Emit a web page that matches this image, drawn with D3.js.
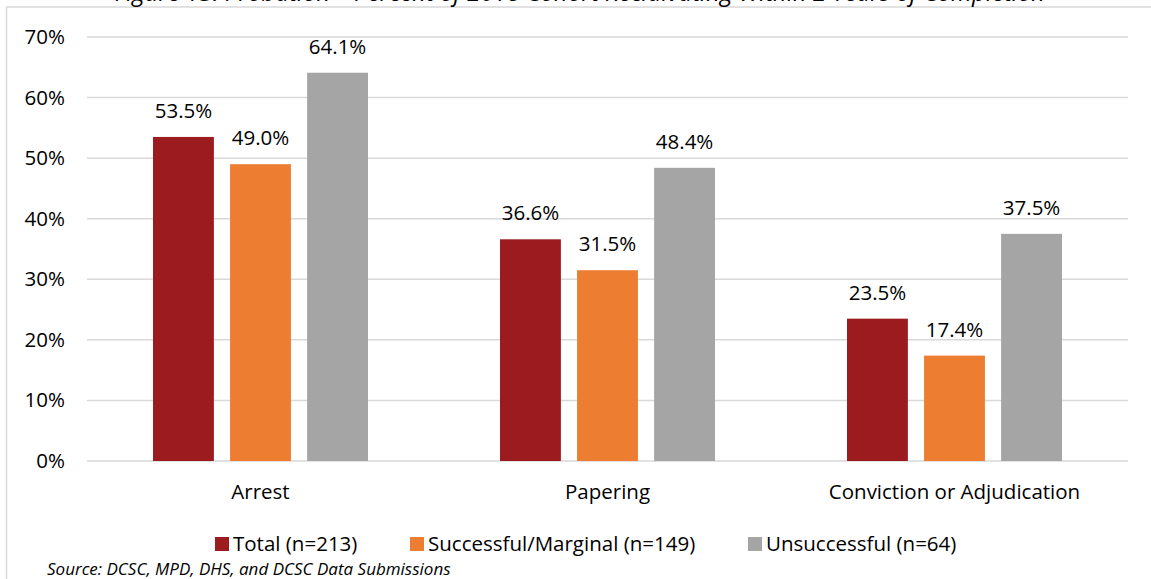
<!DOCTYPE html>
<html>
<head>
<meta charset="utf-8">
<script src="https://cdn.jsdelivr.net/npm/d3@7"></script>
<style>
  body { margin: 0; background: #fff; }
  svg { display: block; font-family: "Open Sans", sans-serif; }
</style>
</head>
<body>
<svg id="plot" width="1151" height="579"></svg>
<script>
// data
const categories = ["Arrest", "Papering", "Conviction or Adjudication"];
const seriesNames = ["Total (n=213)", "Successful/Marginal (n=149)", "Unsuccessful (n=64)"];
const totalVals = [53.5, 36.6, 23.5];
const successVals = [49.0, 31.5, 17.4];
const unsuccessVals = [64.1, 48.4, 37.5];
const yTicks = [0, 10, 20, 30, 40, 50, 60, 70];
const colors = ["#9B1B1F", "#ED7D31", "#A5A5A5"];

const series = [totalVals, successVals, unsuccessVals];
const FONT = "'Open Sans', sans-serif";
const FS = 20.5;

const svg = d3.select("#plot");
const margin = { top: 37, left: 87, right: 23, bottom: 118 };
const width = +svg.attr("width");
const height = +svg.attr("height");
const innerW = width - margin.left - margin.right;
const innerH = height - margin.top - margin.bottom;

// chart border
svg.append("rect")
  .attr("x", 6.5).attr("y", 7)
  .attr("width", width + 20).attr("height", height + 20)
  .attr("fill", "none").attr("stroke", "#d9d9d9").attr("stroke-width", 1.5);

// title (cut off at top, as in the source)
svg.append("text")
  .attr("x", 580).attr("y", 1)
  .attr("text-anchor", "middle")
  .attr("font-style", "italic")
  .attr("font-size", 24)
  .attr("fill", "#000")
  .text("Figure 13: Probation – Percent of 2018 Cohort Recidivating Within 2 Years of Completion");

const g = svg.append("g").attr("transform", `translate(${margin.left},${margin.top})`);

const x0 = d3.scaleBand().domain(categories).range([0, innerW]);
const x1 = d3.scaleBand().domain(d3.range(3))
  .range([x0.bandwidth() / 2 - 107.5, x0.bandwidth() / 2 + 107.5]).paddingInner(0.21);
const y = d3.scaleLinear().domain([0, 70]).range([innerH, 0]);

// gridlines
g.selectAll(".grid")
  .data(yTicks)
  .enter().append("line")
  .attr("x1", 0).attr("x2", innerW)
  .attr("y1", d => y(d)).attr("y2", d => y(d))
  .attr("stroke", "#d9d9d9").attr("stroke-width", 1.5);

// y axis labels
const yAxis = g.append("g")
  .call(d3.axisLeft(y).tickValues(yTicks).tickFormat(d => d + "%").tickSize(0).tickPadding(22));
yAxis.select(".domain").remove();
yAxis.selectAll("text").attr("font-size", FS).attr("fill", "#000").attr("font-family", FONT);

// x axis labels
const xAxis = g.append("g")
  .attr("transform", `translate(0,${innerH})`)
  .call(d3.axisBottom(x0).tickSize(0).tickPadding(23));
xAxis.select(".domain").remove();
xAxis.selectAll("text").attr("font-size", FS).attr("fill", "#000").attr("font-family", FONT);

// bars
const groups = g.selectAll(".cat")
  .data(categories)
  .enter().append("g")
  .attr("transform", d => `translate(${x0(d)},0)`);

groups.each(function(cat, ci) {
  const grp = d3.select(this);
  series.forEach((vals, si) => {
    grp.append("rect")
      .attr("x", x1(si))
      .attr("y", y(vals[ci]))
      .attr("width", x1.bandwidth())
      .attr("height", innerH - y(vals[ci]))
      .attr("fill", colors[si]);
    grp.append("text")
      .attr("x", x1(si) + x1.bandwidth() / 2)
      .attr("y", y(vals[ci]) - 19)
      .attr("text-anchor", "middle")
      .attr("font-size", FS)
      .attr("fill", "#000")
      .text(vals[ci].toFixed(1) + "%");
  });
});

// legend
const legendX = [215, 410, 748];
const legend = svg.append("g");
seriesNames.forEach((name, i) => {
  legend.append("rect")
    .attr("x", legendX[i]).attr("y", 537)
    .attr("width", 14).attr("height", 14)
    .attr("fill", colors[i]);
  legend.append("text")
    .attr("x", legendX[i] + 18).attr("y", 551)
    .attr("font-size", FS)
    .attr("fill", "#000")
    .text(name);
});

// source
svg.append("text")
  .attr("x", 47).attr("y", 575)
  .attr("font-style", "italic")
  .attr("font-size", 17)
  .attr("fill", "#000")
  .text("Source: DCSC, MPD, DHS, and DCSC Data Submissions");
</script>
</body>
</html>
